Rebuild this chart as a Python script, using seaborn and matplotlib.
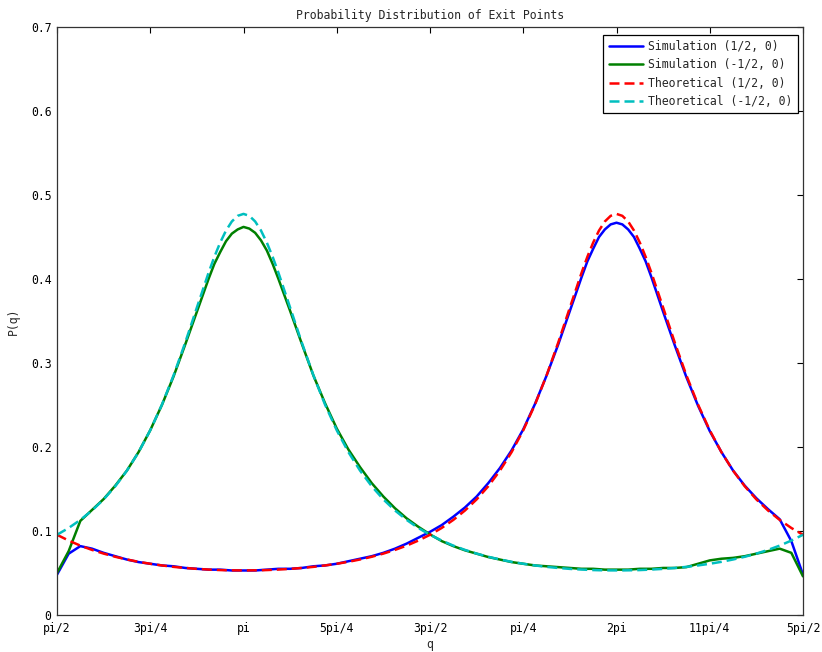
import numpy as np
import pandas as pd
import matplotlib
matplotlib.use("Agg")
import matplotlib.pyplot as plt
import seaborn as sns

# Sample locations in units of pi/64 (pi/2 .. 5pi/2), denser around the two peaks
q_units = (list(range(32, 59, 2)) + list(range(59, 70)) + list(range(70, 123, 2))
           + list(range(123, 134)) + list(range(134, 161, 2)))

sim_pos = [0.048, 0.073, 0.082, 0.079, 0.074, 0.070, 0.066, 0.063, 0.061, 0.059, 0.058,
           0.056, 0.055, 0.054,
           0.054, 0.054, 0.0535, 0.053, 0.053, 0.053, 0.053, 0.053, 0.0535, 0.054, 0.0545,
           0.055, 0.055, 0.056, 0.058, 0.059, 0.061, 0.064, 0.067, 0.070, 0.074, 0.079,
           0.085, 0.092, 0.099, 0.107, 0.117, 0.128, 0.141, 0.157, 0.175, 0.196, 0.221,
           0.251, 0.285, 0.322, 0.362, 0.402,
           0.421, 0.436, 0.450, 0.459, 0.465, 0.467, 0.465, 0.459, 0.450, 0.436, 0.421,
           0.402, 0.361, 0.321, 0.283, 0.249, 0.219, 0.194, 0.172, 0.154, 0.139, 0.126,
           0.114, 0.088, 0.048]

sim_neg = [0.050, 0.076, 0.112, 0.125, 0.138, 0.154, 0.172, 0.194, 0.220, 0.250, 0.284,
           0.322, 0.361, 0.400,
           0.418, 0.432, 0.445, 0.454, 0.459, 0.462, 0.460, 0.455, 0.446, 0.434, 0.418,
           0.400, 0.362, 0.323, 0.285, 0.252, 0.222, 0.197, 0.176, 0.157, 0.141, 0.127,
           0.115, 0.105, 0.096, 0.088, 0.082, 0.077, 0.073, 0.069, 0.066, 0.063, 0.061,
           0.059, 0.058, 0.057, 0.056, 0.055,
           0.055, 0.055, 0.0545, 0.054, 0.054, 0.054, 0.054, 0.054, 0.0545, 0.055, 0.055,
           0.055, 0.056, 0.056, 0.057, 0.061, 0.065, 0.067, 0.068, 0.070, 0.073, 0.076,
           0.079, 0.074, 0.046]

theo_pos = [0.0955, 0.0886, 0.0826, 0.0775, 0.0731, 0.0693, 0.0661, 0.0633, 0.0610, 0.0590,
            0.0573, 0.0560, 0.0549, 0.0541,
            0.0538, 0.0535, 0.0533, 0.0532, 0.0531, 0.0531, 0.0531, 0.0532, 0.0533, 0.0535,
            0.0538,
            0.0541, 0.0549, 0.0560, 0.0573, 0.0590, 0.0610, 0.0633, 0.0661, 0.0693, 0.0731,
            0.0775, 0.0826, 0.0886, 0.0955, 0.1036, 0.1132, 0.1244, 0.1376, 0.1533, 0.1719,
            0.1939, 0.2199, 0.2503, 0.2852, 0.3243, 0.3660, 0.4073,
            0.4264, 0.4434, 0.4577, 0.4685, 0.4752, 0.4775, 0.4752, 0.4685, 0.4577, 0.4434,
            0.4264,
            0.4073, 0.3660, 0.3243, 0.2852, 0.2503, 0.2199, 0.1939, 0.1719, 0.1533, 0.1376,
            0.1244, 0.1132, 0.1036, 0.0955]

theo_neg = [0.0955, 0.1036, 0.1132, 0.1244, 0.1376, 0.1533, 0.1719, 0.1939, 0.2199, 0.2503,
            0.2852, 0.3243, 0.3660, 0.4073,
            0.4264, 0.4434, 0.4577, 0.4685, 0.4752, 0.4775, 0.4752, 0.4685, 0.4577, 0.4434,
            0.4264,
            0.4073, 0.3660, 0.3243, 0.2852, 0.2503, 0.2199, 0.1939, 0.1719, 0.1533, 0.1376,
            0.1244, 0.1132, 0.1036, 0.0955, 0.0886, 0.0826, 0.0775, 0.0731, 0.0693, 0.0661,
            0.0633, 0.0610, 0.0590, 0.0573, 0.0560, 0.0549, 0.0541,
            0.0538, 0.0535, 0.0533, 0.0532, 0.0531, 0.0531, 0.0531, 0.0532, 0.0533, 0.0535,
            0.0538,
            0.0541, 0.0549, 0.0560, 0.0573, 0.0590, 0.0610, 0.0633, 0.0661, 0.0693, 0.0731,
            0.0775, 0.0826, 0.0886, 0.0955]

series_names = ["Simulation (1/2, 0)", "Simulation (-1/2, 0)",
                "Theoretical (1/2, 0)", "Theoretical (-1/2, 0)"]

x_tick_labels = ["pi/2", "3pi/4", "pi", "5pi/4", "3pi/2", "pi/4", "2pi", "11pi/4", "5pi/2"]
y_ticks = [0, 0.1, 0.2, 0.3, 0.4, 0.5, 0.6, 0.7]
y_tick_labels = ["0", "0.1", "0.2", "0.3", "0.4", "0.5", "0.6", "0.7"]

q = np.array(q_units) * np.pi / 64
frames = []
for name, vals in zip(series_names, [sim_pos, sim_neg, theo_pos, theo_neg]):
    frames.append(pd.DataFrame({"q": q, "P": vals, "series": name}))
df = pd.concat(frames, ignore_index=True)

sns.set_style("white")
plt.rcParams["font.family"] = ["DejaVu Sans Mono"]
plt.rcParams["font.size"] = 8.3

fig = plt.figure(figsize=(8.22, 6.52), dpi=100)
ax = fig.add_axes([57 / 822, 1 - 615 / 652, 746 / 822, 588 / 652])

palette = {
    "Simulation (1/2, 0)": (0.0, 0.0, 1.0),
    "Simulation (-1/2, 0)": (0.0, 0.5, 0.0),
    "Theoretical (1/2, 0)": (1.0, 0.0, 0.0),
    "Theoretical (-1/2, 0)": (0.0, 0.75, 0.75),
}
dashes = {
    "Simulation (1/2, 0)": "",
    "Simulation (-1/2, 0)": "",
    "Theoretical (1/2, 0)": (4, 2),
    "Theoretical (-1/2, 0)": (4, 2),
}

sns.lineplot(data=df, x="q", y="P", hue="series", style="series",
             hue_order=series_names, style_order=series_names,
             palette=palette, dashes=dashes, linewidth=1.8, ax=ax, sort=False)

ax.set_xlim(np.pi / 2, 5 * np.pi / 2)
ax.set_ylim(0, 0.7)
ax.set_xticks(np.pi / 2 + np.pi / 4 * np.arange(len(x_tick_labels)))
ax.set_xticklabels(x_tick_labels)
ax.set_yticks(y_ticks)
ax.set_yticklabels(y_tick_labels)
ax.tick_params(direction="in", length=4.5, width=0.8, top=True, right=True,
               labelsize=8.3, colors="black")
ax.tick_params(axis="x", pad=5)
ax.tick_params(axis="y", pad=4)
for side in ["left", "right", "top", "bottom"]:
    ax.spines[side].set_visible(True)
    ax.spines[side].set_color("#333333")
    ax.spines[side].set_linewidth(0.9)

ax.set_title("Probability Distribution of Exit Points", fontsize=8.3, pad=6)
ax.set_xlabel("q", fontsize=8.3, labelpad=2)
ax.set_ylabel("P(q)", fontsize=8.3, labelpad=8)

leg = ax.legend(loc="upper right", bbox_to_anchor=(798 / 822, 1 - 35 / 652),
                bbox_transform=fig.transFigure, borderaxespad=0,
                fontsize=8.3, frameon=True, fancybox=False,
                edgecolor="black", framealpha=1, handlelength=3.0, handletextpad=0.45,
                labelspacing=0.45, borderpad=0.45)
leg.get_frame().set_linewidth(0.9)

fig.savefig("out.png", dpi=100, facecolor="white")
